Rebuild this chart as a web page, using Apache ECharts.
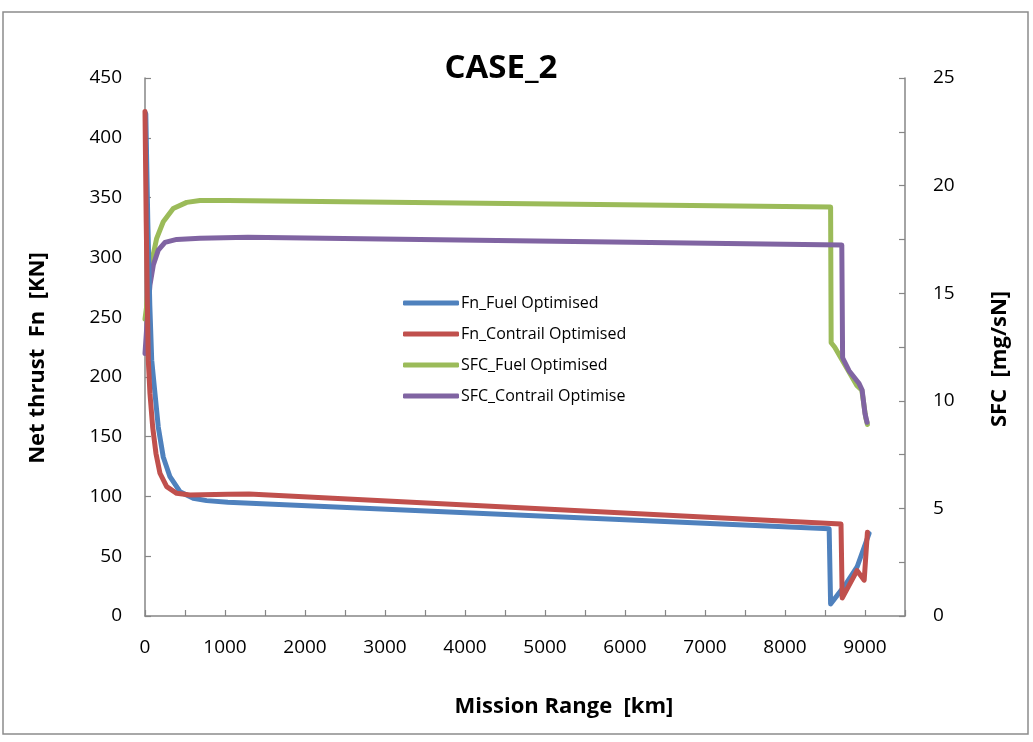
<!DOCTYPE html>
<html>
<head>
<meta charset="utf-8">
<script src="https://cdn.jsdelivr.net/npm/echarts@6/dist/echarts.min.js"></script>
<style>
  html, body { margin: 0; padding: 0; background: #fff; }
  #chart { width: 1033px; height: 742px; }
</style>
</head>
<body>
<div id="chart"></div>
<script>
// Mission range [km] / value pairs for each series
const fnFuel = [
  [10, 420], [35, 330], [60, 260], [84, 214], [125, 186], [166, 158], [228, 133],
  [312, 116.5], [437, 104], [603, 98.5], [770, 96.5], [1036, 95.1], [8552, 73],
  [8570, 10], [8764, 27], [8901, 41], [9051, 69]
];
const fnContrail = [
  [0, 422], [15, 330], [30, 260], [41, 214], [62, 186], [96, 158], [137, 136],
  [187, 119.4], [271, 108.2], [396, 102.6], [562, 101.2], [1036, 101.8], [1300, 102],
  [8700, 77], [8715, 15], [8900, 38], [8990, 30], [9030, 70]
];
const sfcFuel = [
  [0, 13.8], [21, 14.4], [41, 15.4], [84, 16.46], [146, 17.55], [228, 18.32],
  [353, 18.94], [521, 19.22], [687, 19.31], [1036, 19.31], [8570, 19.0],
  [8577, 12.7], [8620, 12.5], [8900, 10.7], [8960, 10.5], [9010, 9.2], [9030, 8.9]
];
const sfcContrail = [
  [0, 12.2], [29, 13.83], [62, 15.38], [104, 16.31], [166, 17.0], [250, 17.36],
  [396, 17.5], [687, 17.55], [1286, 17.6], [8710, 17.24], [8720, 12.0],
  [8800, 11.4], [8926, 10.8], [8964, 10.5], [9000, 9.4], [9026, 9.0]
];

const seriesNames = ['Fn_Fuel Optimised', 'Fn_Contrail Optimised', 'SFC_Fuel Optimised', 'SFC_Contrail Optimise'];
const seriesColors = ['#4F81BD', '#C0504D', '#9BBB59', '#8064A2'];
const seriesData = [fnFuel, fnContrail, sfcFuel, sfcContrail];
const seriesAxis = [0, 0, 1, 1];
const seriesZ = [3, 4, 2, 2];

const FONT = '"Open Sans", "Liberation Sans", sans-serif';
const AXIS_GREY = '#868686';

const chart = echarts.init(document.getElementById('chart'), null, { renderer: 'canvas' });

const axisCommon = {
  axisLine: { show: true, lineStyle: { color: AXIS_GREY, width: 1.5 } },
  axisTick: { show: true, inside: true, length: 6, lineStyle: { color: AXIS_GREY, width: 1.2 } },
  splitLine: { show: false },
  axisLabel: { color: '#000', fontFamily: FONT, fontSize: 19 },
  nameTextStyle: { color: '#000', fontFamily: FONT, fontSize: 22, fontWeight: 'bold' }
};

chart.setOption({
  backgroundColor: '#fff',
  animation: false,
  title: {
    text: 'CASE_2',
    left: 496,
    top: 47,
    textAlign: 'center',
    textStyle: { fontFamily: FONT, fontSize: 33, fontWeight: 'bold', color: '#000' }
  },
  graphic: [{
    type: 'rect',
    shape: { x: 3, y: 12, width: 1025, height: 722 },
    style: { fill: 'none', stroke: '#8c8c8c', lineWidth: 1.5 },
    silent: true,
    z: -1
  }],
  legend: {
    orient: 'vertical',
    left: 398,
    top: 290,
    itemWidth: 56,
    itemHeight: 5,
    itemGap: 15,
    icon: 'roundRect',
    textStyle: { fontFamily: FONT, fontSize: 16, color: '#000', padding: [0, 0, 0, -3] },
    data: seriesNames
  },
  grid: { left: 145, right: 128, top: 78, bottom: 126 },
  xAxis: Object.assign({}, axisCommon, {
    type: 'value',
    min: 0,
    max: 9500,
    interval: 500,
    name: 'Mission Range  [km]',
    nameLocation: 'middle',
    nameGap: 80,
    nameTextStyle: Object.assign({}, axisCommon.nameTextStyle, { padding: [0, 0, 0, 78] }),
    axisLabel: Object.assign({}, axisCommon.axisLabel, {
      margin: 22,
      formatter: v => (v % 1000 === 0 ? String(v) : '')
    })
  }),
  yAxis: [
    Object.assign({}, axisCommon, {
      type: 'value',
      position: 'left',
      min: 0,
      max: 450,
      interval: 50,
      name: 'Net thrust  Fn  [KN]',
      nameLocation: 'middle',
      nameGap: 96,
      nameTextStyle: Object.assign({}, axisCommon.nameTextStyle, { padding: [0, 22, 0, 0] }),
      axisLabel: Object.assign({}, axisCommon.axisLabel, { margin: 23 })
    }),
    Object.assign({}, axisCommon, {
      type: 'value',
      position: 'right',
      min: 0,
      max: 25,
      interval: 2.5,
      name: 'SFC  [mg/sN]',
      nameLocation: 'middle',
      nameGap: 84,
      nameTextStyle: Object.assign({}, axisCommon.nameTextStyle, { padding: [0, 24, 0, 0] }),
      axisLabel: Object.assign({}, axisCommon.axisLabel, {
        margin: 28,
        formatter: v => (v % 5 === 0 ? String(v) : '')
      })
    })
  ],
  series: seriesNames.map((name, i) => ({
    name: name,
    type: 'line',
    yAxisIndex: seriesAxis[i],
    data: seriesData[i],
    smooth: false,
    showSymbol: false,
    symbol: 'none',
    color: seriesColors[i],
    lineStyle: { color: seriesColors[i], width: 5, cap: 'round', join: 'round' },
    z: seriesZ[i]
  }))
});
</script>
</body>
</html>
